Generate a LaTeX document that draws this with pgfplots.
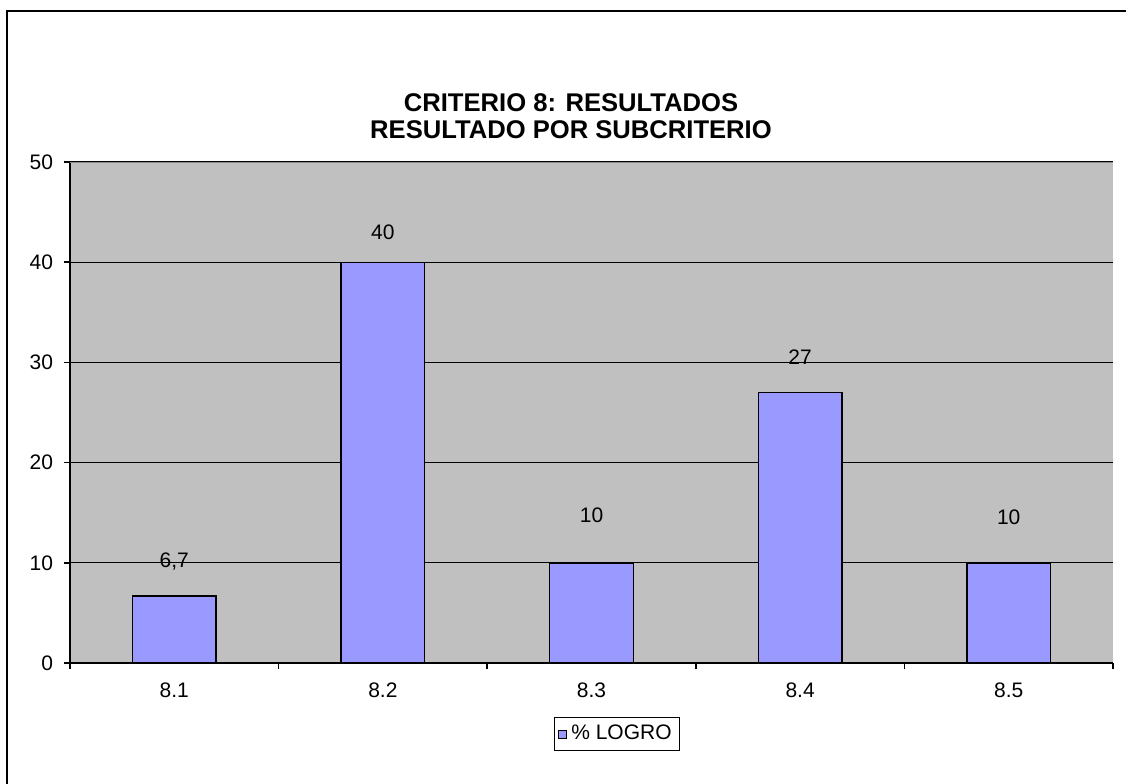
\documentclass[border=0pt]{standalone}
\usepackage{pgfplots}
\usepackage{pgfplotstable}
\pgfplotsset{compat=1.18}
\usepackage{fontspec}
\setmainfont{Liberation Sans}

\definecolor{plotbg}{HTML}{C0C0C0}
\definecolor{barfill}{HTML}{9999FF}
\definecolor{topline}{HTML}{8C8C8C}

% subcriterion, score, label lift (pt)
\pgfplotstableread{
x y off
1 6.7 17
2 40 15
3 10 24
4 27 17.5
5 10 23
}\logro

\begin{document}
\begin{tikzpicture}[x=0.5pt,y=0.5pt]
\useasboundingbox (0,0) rectangle (1126,783);
\clip (0,0) rectangle (1126,783);
% chart frame
\draw[line width=1pt] (7,-20) rectangle (1150,772);
% title
\node[font=\bfseries\fontsize{12.8}{13.5}\selectfont, align=center] at (571,666.5)
  {CRITERIO 8: RESULTADOS\\RESULTADO POR SUBCRITERIO};

\begin{axis}[
  at={(35pt,60pt)}, anchor=south west,
  scale only axis, width=521.5pt, height=250.5pt,
  xmin=0.5, xmax=5.5, ymin=0, ymax=50,
  axis background/.style={fill=plotbg},
  axis x line*=bottom, axis y line*=left,
  axis line style={black, line width=0.9pt},
  ytick={0,10,...,50},
  ymajorgrids, grid style={black, line width=0.65pt},
  tick style={black, line width=0.8pt},
  tick align=outside, major tick length=3pt,
  xtick={0.5,1.5,...,5.5}, xticklabels={},
  extra x ticks={1,2,3,4,5},
  extra x tick labels={8.1,8.2,8.3,8.4,8.5},
  extra x tick style={major tick length=0pt, grid=none},
  ticklabel style={font=\fontsize{10.5}{12}\selectfont},
  xticklabel style={yshift=-6.5pt},
  yticklabel style={xshift=-2pt},
  /pgf/number format/assume math mode=true,
  legend style={at={(axis description cs:0.5245,-0.1417)}, anchor=center,
    draw=black, line width=0.6pt, font=\fontsize{10.5}{12}\selectfont,
    inner xsep=2pt, inner ysep=2pt},
  legend image code/.code={\draw[fill=barfill,draw=black,line width=0.4pt] (0pt,-2pt) rectangle (4pt,2pt);},
]
\addplot[ybar, bar width=0.4, fill=barfill, draw=black, line width=0.7pt,
  visualization depends on={\thisrow{off}\as\lift},
  nodes near coords={\pgfmathprintnumber[use comma]{\pgfplotspointmeta}},
  nodes near coords style={anchor=center, yshift=\lift pt, font=\fontsize{10.5}{12}\selectfont, text=black},
] table[x=x, y=y] {\logro};
\addlegendentry{\% LOGRO}
\draw[topline, line width=0.7pt] (rel axis cs:0,1) -- (rel axis cs:1,1);
\end{axis}
\end{tikzpicture}
\end{document}
